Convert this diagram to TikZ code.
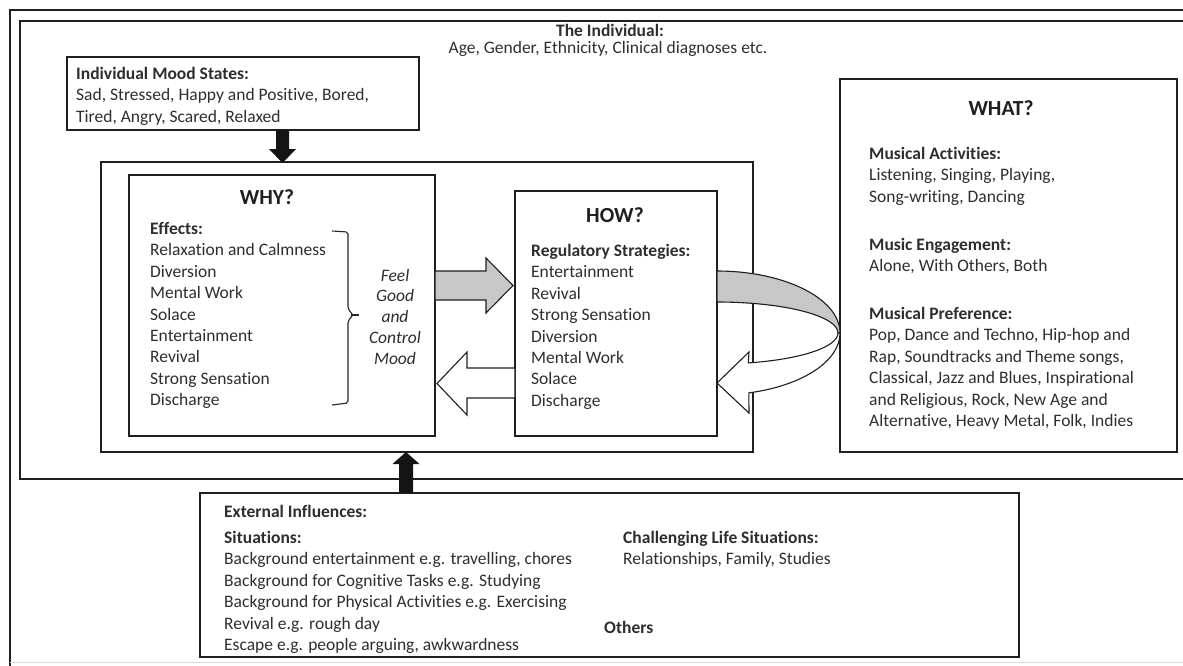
\documentclass[tikz,border=0pt]{standalone}
\usepackage{fontspec}
\setmainfont{Carlito}[Ligatures=NoCommon]
\begin{document}
\begin{tikzpicture}[x=1pt,y=-1pt,
  ln/.style={draw=black!88, line width=1.4pt},
  box/.style={ln, fill=white, inner sep=0pt, outer sep=0pt, anchor=north west},
  txt/.style={font=\fontsize{17.5}{21.4}\selectfont, text=black!82, inner sep=0pt, align=left, anchor=base west},
  hd/.style={font=\fontsize{21.5}{24}\selectfont\bfseries, text=black!88, inner sep=0pt, anchor=base},
  grayarrow/.style={draw=black!88, line width=1.1pt, fill=black!22},
  whitearrow/.style={draw=black!88, line width=1.1pt, fill=white},
  blockarrow/.style={fill=black!92}]
\useasboundingbox (0,0) rectangle (1183,665);
\clip (0,0) rectangle (1183,665);

% frames
\draw[ln] (10,700) -- (10,10) -- (1200,10);
\draw[ln] (1200,21) -- (20,21) -- (20,479) -- (1200,479);
\draw[black!15, line width=1pt] (10,662) -- (1183,662);

% boxes
\node[box, minimum width=352pt, minimum height=73pt] (mood) at (67,57) {};
\node[box, minimum width=652pt, minimum height=290pt] (cont) at (101,162) {};
\node[box, minimum width=306pt, minimum height=261pt] (why) at (129,175) {};
\node[box, minimum width=202pt, minimum height=245pt] (how) at (515,191) {};
\node[box, minimum width=337pt, minimum height=373pt] (what) at (840,79) {};
\node[box, minimum width=819pt, minimum height=164pt] (ext) at (200,493) {};

% black arrows
\fill[blockarrow] (276,130) -- (289,130) -- (289,149) -- (296,149) -- (282.5,163) -- (269,149) -- (276,149) -- cycle;
\fill[blockarrow] (399,493) -- (399,464) -- (392.5,464) -- (406,452) -- (419.5,464) -- (413,464) -- (413,493) -- cycle;

% straight arrows between WHY and HOW
\draw[grayarrow] (435,271) -- (486,271) -- (486,258) -- (513,285.5) -- (486,313) -- (486,300) -- (435,300) -- cycle;
\draw[whitearrow] (515,368) -- (467,368) -- (467,352) -- (437,383.5) -- (467,415) -- (467,398) -- (515,398) -- cycle;

% curved arrow HOW -> WHAT -> HOW
\draw[grayarrow] (717,271) arc[start angle=-90, end angle=0, x radius=123, y radius=62] -- (838,333) arc[start angle=0, end angle=-90, x radius=121, y radius=31] -- cycle;
\draw[whitearrow] (840,333) arc[start angle=0, end angle=75, x radius=123, y radius=62] -- (749,413) -- (717,383) -- (749,352) -- (748.3,362.9) arc[start angle=75, end angle=0, x radius=121, y radius=31] -- cycle;

% brace
\draw[black!85, line width=1.1pt, rounded corners=2pt] (332,231) -- (348,232) -- (348,309) -- (353,315) -- (348,321) -- (348,403) -- (332,405);
\draw[black!85, line width=1.1pt] (352,315) -- (359,315);

% texts (base anchor = baseline of the last line)
\node[txt, anchor=base, align=center] (indt) at (610,36) {\textbf{The Individual:}};
\node[txt, anchor=base, align=center] (indd) at (608,53) {Age, Gender, Ethnicity, Clinical diagnoses etc.};

\node[txt] (moodt) at (76,122.3) {\textbf{Individual Mood States:}\\Sad, Stressed, Happy and Positive, Bored,\\Tired, Angry, Scared, Relaxed};

\node[hd] (whyt) at (267,204) {WHY?};
\node[txt] (eff) at (150,405.7) {\textbf{Effects:}\\Relaxation and Calmness\\Diversion\\Mental Work\\Solace\\Entertainment\\Revival\\Strong Sensation\\Discharge};
\node[txt, anchor=base, align=center, font=\fontsize{17.5}{20.8}\selectfont\itshape] (feel) at (395,364.2) {Feel\\Good\\and\\Control\\Mood};

\node[hd] (howt) at (615,222) {HOW?};
\node[txt] (reg) at (531,406.3) {\textbf{Regulatory Strategies:}\\Entertainment\\Revival\\Strong Sensation\\Diversion\\Mental Work\\Solace\\Discharge};

\node[hd] (whatt) at (1001,115) {WHAT?};
\node[txt] (act) at (869,202.3) {\textbf{Musical Activities:}\\Listening, Singing, Playing,\\Song-writing, Dancing};
\node[txt] (eng) at (869,271.9) {\textbf{Music Engagement:}\\Alone, With Others, Both};
\node[txt] (pref) at (869,426.5) {\textbf{Musical Preference:}\\Pop, Dance and Techno, Hip-hop and\\Rap, Soundtracks and Theme songs,\\Classical, Jazz and Blues, Inspirational\\and Religious, Rock, New Age and\\Alternative, Heavy Metal, Folk, Indies};

\node[txt] (extt) at (224,517.5) {\textbf{External Influences:}};
\node[txt] (sit) at (224,650.5) {\textbf{Situations:}\\Background entertainment e.g. travelling, chores\\Background for Cognitive Tasks e.g. Studying\\Background for Physical Activities e.g. Exercising\\Revival e.g. rough day\\Escape e.g. people arguing, awkwardness};
\node[txt] (chal) at (623,564.9) {\textbf{Challenging Life Situations:}\\Relationships, Family, Studies};
\node[txt] (oth) at (604,633.5) {\textbf{Others}};
\end{tikzpicture}
\end{document}
